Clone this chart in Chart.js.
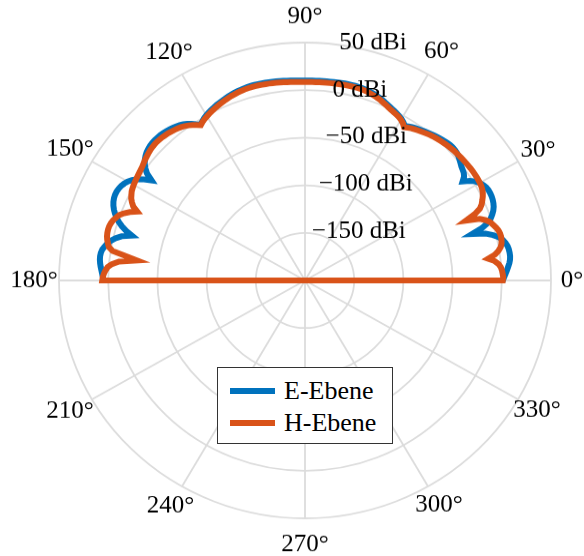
<!DOCTYPE html>
<html>
<head>
<meta charset="utf-8">
<script src="https://cdn.jsdelivr.net/npm/chart.js@4/dist/chart.umd.min.js"></script>
<style>
  html, body { margin: 0; padding: 0; background: #fff; }
  #wrap { position: relative; width: 584px; height: 556px; overflow: hidden; }
  #polar { position: absolute; left: 0; top: 0; }
  #legend {
    position: absolute; left: 217px; top: 367px; width: 174px; height: 75px;
    border: 1.4px solid #333; background: #fff;
    font-family: "Liberation Serif", serif; font-size: 26px; color: #000;
  }
  .row { position: absolute; left: 0; height: 30px; display: flex; align-items: center; white-space: nowrap; }
  .swatch { width: 45px; height: 6.5px; margin-left: 12px; margin-right: 9px; }
</style>
</head>
<body>
<div id="wrap">
  <!-- drawn a bit taller than shown: the reference circle is slightly squeezed vertically -->
  <canvas id="polar" width="584" height="575" style="width:584px;height:556px"></canvas>
  <div id="legend"></div>
</div>
<script>
// gain in dBi, one value per degree from 0° to 180° (lower half not measured)
const eEbene = [
  1, 2.5, 4, 5.5, 7, 8.5, 9.5, 10, 10, 9.7,
  9, 7.5, 5.5, 2, -3, -10, -23.5, -12, -5, -0.5,
  2.5, 5, 6.8, 8, 8.8, 9.3, 9.4, 9.2, 8.5, 7,
  5, 2, -2.5, -9, -5, -3, -2, -1, 0.5, 2,
  3.5, 4.5, 5, 5.2, 5, 4.5, 3.8, 3, 2.2, 1.4,
  0.5, -0.5, -1.5, -2.5, -3.5, -4.5, -5.5, -7, -8.5, -6,
  -4, -2.5, -1.2, 0, 1, 2.2, 3.5, 4.7, 6, 7,
  8, 8.7, 9.5, 10, 10.4, 10.7, 10.8, 10.9, 10.9, 10.9,
  10.8, 10.7, 10.6, 10.5, 10.5, 10.4, 10.3, 10.2, 10.2, 10.1,
  10.1, 10.1, 10.2, 10.3, 10.5, 10.7, 10.9, 11.1, 11.3, 11.5,
  11.6, 11.7, 11.8, 11.9, 11.9, 11.8, 11.6, 11.3, 10.9, 10.5,
  9.9, 9.3, 8.5, 7.7, 6.8, 6, 5.1, 4.1, 3, 1.9,
  0.6, -1, -3, -4.5, -2, 1, 3.5, 5.5, 7, 8.3,
  9.3, 10.2, 11, 11.5, 12, 12.2, 12.3, 12.2, 11.8, 11,
  10, 8.5, 6.5, 4, 0.5, -4, -12, -5, 1, 5,
  8, 10, 11.5, 12.5, 13, 13, 12.5, 11.5, 10, 8,
  5.5, 2.5, -1, -5.5, -11, -18, -8, -2.5, 1.5, 4.5,
  6.5, 8.5, 9.5, 9.8, 9.6, 9, 8.2, 7.2, 6.3, 5.5,
  5
];
const hEbene = [
  1, 1.5, 1, 0.5, -0.5, -2.5, -6, -12.5, -5, -1,
  2, 3.5, 4.2, 4.5, 4.3, 3.5, 2, 0, -2, -5.5,
  -11, -25, -14, -7, -3.5, -1.2, 1, 2.8, 4, 4.8,
  5.2, 5.4, 5.5, 5.5, 5.5, 5.4, 5.2, 5, 4.8, 4.5,
  4.3, 4, 3.8, 3.3, 2.8, 2.3, 1.7, 1.1, 0.5, -0.2,
  -1, -2, -3, -4, -5, -6, -7, -8.5, -10, -7,
  -5, -3.5, -2.5, -1.5, -0.5, 0.7, 2, 3.2, 4.5, 5.5,
  6.5, 7.2, 8, 8.5, 9, 9.2, 9.3, 9.4, 9.4, 9.4,
  9.3, 9.2, 9.1, 9, 9, 8.9, 8.8, 8.7, 8.7, 8.6,
  8.6, 8.6, 8.7, 8.8, 9, 9.2, 9.4, 9.6, 9.8, 10,
  10.1, 10.2, 10.3, 10.4, 10.4, 10.3, 10.1, 9.8, 9.4, 9,
  8.4, 7.8, 7, 6.2, 5.3, 4.5, 3.6, 2.6, 1.5, 0.4,
  -0.8, -2, -3.5, -5.5, -3, -0.5, 1.5, 3, 4.5, 5.5,
  6.5, 7.3, 8, 8.5, 9, 9.3, 9.4, 9.3, 9, 8.5,
  7.8, 7, 6.2, 5.2, 4.2, 3.5, 3, 2.5, 2, 1.5,
  1, 0.3, -0.5, -2, -3.5, -6, -9, -14.8, -8, -3,
  1, 3, 5, 6.2, 7, 7.2, 7, 6.5, 5.5, 4,
  2.5, -2, -16, -28, -10, -3, 1, 3, 4.5, 5.5,
  6
];
const seriesNames = ['E-Ebene', 'H-Ebene'];
const seriesColors = ['#0072BD', '#D95319'];
const radialTicks = [50, 0, -50, -100, -150];
const angleTicks = [0, 30, 60, 90, 120, 150, 180, 210, 240, 270, 300, 330];

const rMin = -200;
const rMax = 50;
const tickAngle = 82;           // ray the dBi labels are hung on
const gridColor = '#dcdcdc';
const fontFamily = '"Liberation Serif", serif';
// distance (px) of each angle label centre outside the outer ring
const labelOff = { 0: 21, 30: 23, 60: 27, 90: 27, 120: 26, 150: 25.5,
                   180: 25, 210: 25.5, 240: 23, 270: 27, 300: 22, 330: 22 };

// radar goes clockwise from the top, so walk the degrees 90, 89, ... 0, 359, ... 91
const radarAngles = Array.from({ length: 360 }, (_, i) => (450 - i) % 360);
const toRadar = series => radarAngles.map(a => (a <= 180 ? series[a] : null));
const isTick = a => angleTicks.includes(a);

const fmtTick = v => String(v).replace('-', '\u2212') + ' dBi';

const polarLabelsPlugin = {
  id: 'polarLabels',
  afterDatasetsDraw(chart) {
    const r = chart.scales.r;
    const ctx = chart.ctx;
    const outer = r.getDistanceFromCenterForValue(rMax);
    ctx.save();
    ctx.font = '25px ' + fontFamily;
    ctx.fillStyle = '#000';
    ctx.textBaseline = 'middle';

    // angle labels, centred on their ray
    ctx.textAlign = 'center';
    angleTicks.forEach(a => {
      const p = r.getPointPosition(radarAngles.indexOf(a), outer + labelOff[a]);
      ctx.fillText(a + '\u00b0', p.x, p.y);
    });

    // radial tick labels
    ctx.textAlign = 'left';
    const t = tickAngle * Math.PI / 180;
    radialTicks.forEach(v => {
      const d = r.getDistanceFromCenterForValue(v);
      ctx.fillText(fmtTick(v), r.xCenter + d * Math.cos(t), r.yCenter - d * Math.sin(t) - 2);
    });
    ctx.restore();
  }
};

const chart = new Chart(document.getElementById('polar'), {
  type: 'radar',
  data: {
    labels: radarAngles,
    datasets: [
      {
        label: seriesNames[0],
        data: toRadar(eEbene),
        borderColor: seriesColors[0],
        backgroundColor: seriesColors[0],
        borderWidth: 6,
        order: 2
      },
      {
        label: seriesNames[1],
        data: toRadar(hEbene),
        borderColor: seriesColors[1],
        backgroundColor: seriesColors[1],
        borderWidth: 6,
        order: 1
      }
    ]
  },
  options: {
    responsive: false,
    devicePixelRatio: 1,
    animation: false,
    events: [],
    spanGaps: true,
    layout: { padding: { left: 59, right: 33, top: 44, bottom: 39 } },
    elements: {
      line: { tension: 0, fill: false, spanGaps: true },
      point: { radius: 0 }
    },
    scales: {
      r: {
        min: rMin,
        max: rMax,
        ticks: { stepSize: 50, display: false },
        grid: { circular: true, color: gridColor, lineWidth: 1.8 },
        angleLines: {
          color: gridColor,
          lineWidth: ctx => (isTick(radarAngles[ctx.index]) ? 1.8 : 0)
        },
        pointLabels: { display: false }
      }
    },
    plugins: {
      legend: { display: false },
      tooltip: { enabled: false }
    }
  },
  plugins: [polarLabelsPlugin]
});

// legend box, built from the chart's datasets
const legendEl = document.getElementById('legend');
chart.data.datasets.forEach((ds, i) => {
  const row = document.createElement('div');
  row.className = 'row';
  row.style.top = (8 + i * 32) + 'px';
  const sw = document.createElement('span');
  sw.className = 'swatch';
  sw.style.background = ds.borderColor;
  const txt = document.createElement('span');
  txt.textContent = ds.label;
  row.appendChild(sw);
  row.appendChild(txt);
  legendEl.appendChild(row);
});
</script>
</body>
</html>
